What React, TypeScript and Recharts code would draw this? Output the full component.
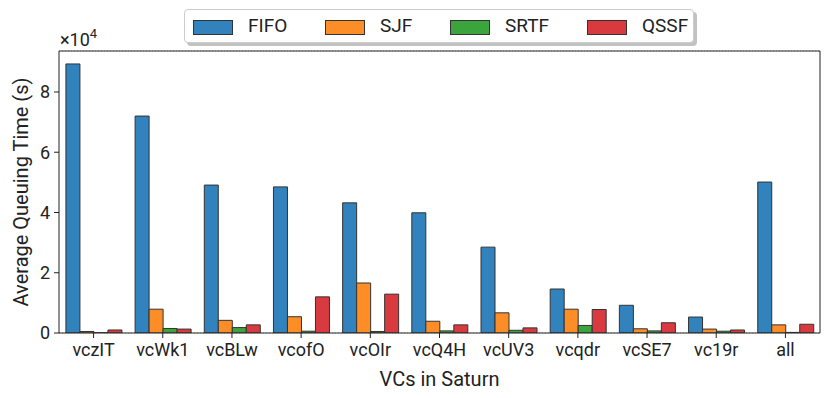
import React from "react";
import { BarChart, Bar, XAxis, YAxis, CartesianGrid, Label } from "recharts";

const categories = ["vczIT", "vcWk1", "vcBLw", "vcofO", "vcOIr", "vcQ4H", "vcUV3", "vcqdr", "vcSE7", "vc19r", "all"];
const fifo = [89300, 72000, 49100, 48500, 43200, 39900, 28500, 14600, 9200, 5300, 50100];
const sjf = [500, 7900, 4200, 5400, 16600, 3900, 6700, 7900, 1400, 1300, 2700];
const srtf = [80, 1500, 1800, 600, 500, 700, 900, 2500, 700, 600, 200];
const qssf = [1000, 1300, 2700, 12000, 12900, 2700, 1700, 7800, 3400, 1000, 2900];
const yTicks = [0, 20000, 40000, 60000, 80000];

const seriesNames = ["FIFO", "SJF", "SRTF", "QSSF"];
const colors = ["#3182bd", "#fd8d27", "#3ca43c", "#d93a3f"];

const data = categories.map((c, i) => ({
  name: c,
  FIFO: fifo[i],
  SJF: sjf[i],
  SRTF: srtf[i],
  QSSF: qssf[i],
}));

const FONT = "Roboto, 'DejaVu Sans', sans-serif";

const legendX = [8, 140, 265, 402];

const LegendBox = () => (
  <div style={{ position: "absolute", left: 184, top: 9, width: 514, height: 38 }}>
    <div style={{ position: "absolute", left: 3, top: 3, width: 510, height: 34, background: "#999", borderRadius: 4, opacity: 0.6 }} />
    <div style={{ position: "absolute", left: 0, top: 0, width: 510, height: 34, background: "#fff", border: "1px solid #ccc", borderRadius: 4, boxSizing: "border-box" }}>
      {seriesNames.map((n, i) => (
        <React.Fragment key={n}>
          <div style={{ position: "absolute", left: legendX[i], top: 10, width: 38, height: 13, background: colors[i], border: "1px solid #333" }} />
          <div style={{ position: "absolute", left: legendX[i] + 55, top: 5, fontFamily: FONT, fontSize: 19, color: "#222", lineHeight: "22px" }}>{n}</div>
        </React.Fragment>
      ))}
    </div>
  </div>
);

const YLabel = () => (
  <g>
    <text x={21} y={192} transform="rotate(-90 21 192)" textAnchor="middle" dominantBaseline="central" fontFamily={FONT} fontSize={20} fill="#222">
      Average Queuing Time (s)
    </text>
    <text x={60} y={46} fontFamily={FONT} fontSize={18} fill="#222">
      ×10<tspan dy={-8} fontSize={13}>4</tspan>
    </text>
  </g>
);

export default function App() {
  return (
    <div style={{ position: "absolute", left: 0, top: 0, width: 830, height: 398, background: "#fff" }}>
      <BarChart width={830} height={398} data={data} margin={{ top: 50, right: 9, bottom: 0, left: 0 }} barCategoryGap="10%" barGap={0}>
        <CartesianGrid vertical={false} stroke="#bbb" strokeDasharray="1 2" />
        <XAxis
          dataKey="name"
          xAxisId="main"
          height={65}
          tickSize={5}
          tickMargin={5}
          stroke="#222"
          tick={{ fill: "#222", fontFamily: FONT, fontSize: 18 }}
          interval={0}
        >
          <Label value="VCs in Saturn" position="insideBottom" offset={12} fill="#222" fontFamily={FONT} fontSize={20} />
        </XAxis>
        <XAxis dataKey="name" xAxisId="top" orientation="top" height={1} tick={false} tickLine={false} stroke="#222" />
        <YAxis
          yAxisId="main"
          width={59}
          domain={[0, 93600]}
          ticks={yTicks}
          tickSize={5}
          tickMargin={4}
          stroke="#222"
          allowDataOverflow
          tickFormatter={(v: number) => String(v / 10000)}
          tick={{ fill: "#222", fontFamily: FONT, fontSize: 18 }}
        >
          <Label content={<YLabel />} />
        </YAxis>
        <YAxis yAxisId="right" orientation="right" width={1} tick={false} tickLine={false} stroke="#222" />
        {seriesNames.map((n, i) => (
          <Bar key={n} dataKey={n} xAxisId="main" yAxisId="main" fill={colors[i]} stroke="#333" strokeWidth={1} isAnimationActive={false} />
        ))}
      </BarChart>
      <LegendBox />
    </div>
  );
}
